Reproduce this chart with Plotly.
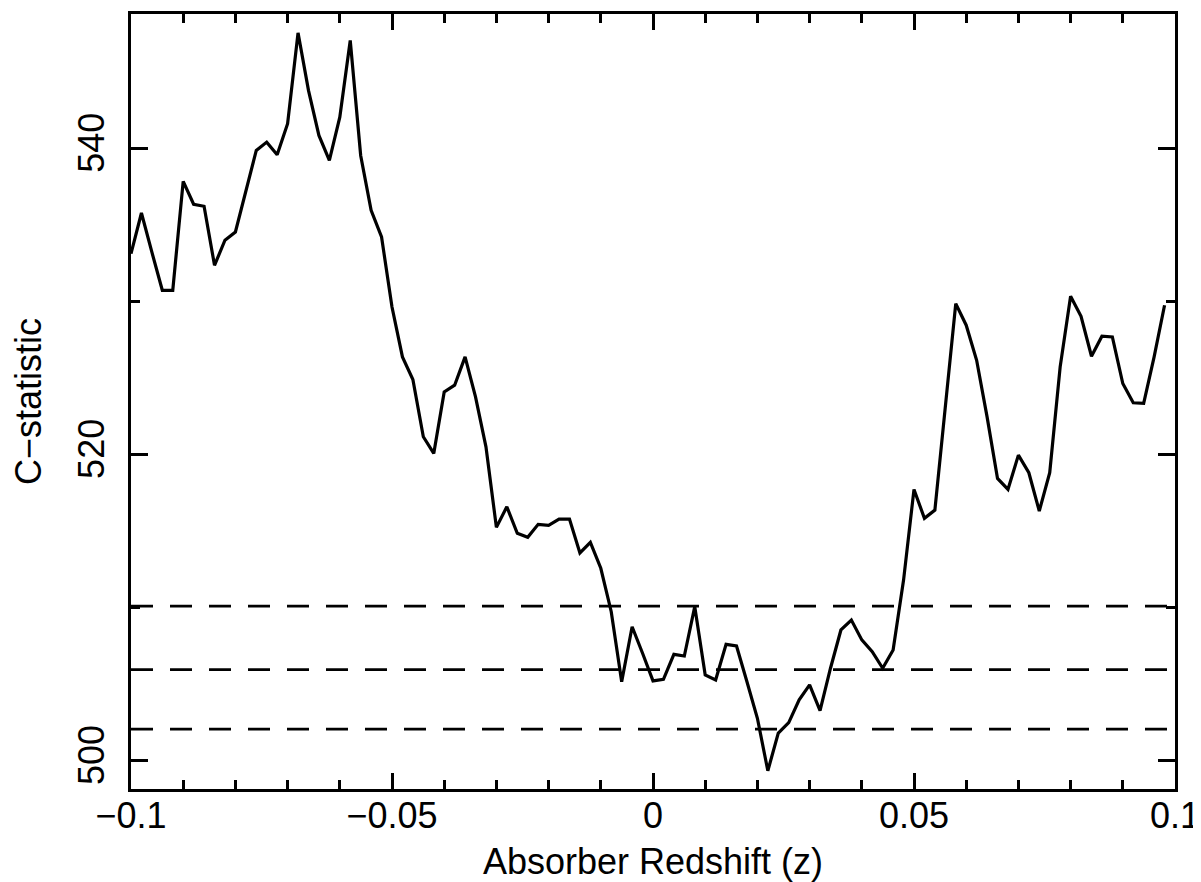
import plotly.graph_objects as go

# Absorber redshift grid (step 0.002 from -0.1 to 0.098)
redshift = [round(-0.1 + 0.002 * i, 3) for i in range(100)]

c_statistic = [
    533.10, 535.76, 533.20, 530.71, 530.71, 537.83, 536.33, 536.20, 532.34, 533.98,
    534.52, 537.24, 539.85, 540.39, 539.57, 541.59, 547.53, 543.77, 540.83, 539.20,
    542.02, 547.03, 539.52, 535.93, 534.19, 529.62, 526.36, 524.88, 521.14, 520.05,
    524.07, 524.51, 526.36, 523.75, 520.48, 515.22, 516.57, 514.83, 514.57, 515.42,
    515.35, 515.76, 515.76, 513.55, 514.24, 512.55, 509.71, 505.14, 508.73, 507.00,
    505.19, 505.30, 506.93, 506.82, 510.04, 505.58, 505.25, 507.58, 507.47, 505.14,
    502.75, 499.32, 501.78, 502.47, 503.95, 504.93, 503.25, 506.02, 508.52, 509.17,
    507.87, 507.10, 506.02, 507.21, 511.78, 517.70, 515.81, 516.35, 523.10, 529.84,
    528.43, 526.14, 522.44, 518.42, 517.70, 519.94, 518.79, 516.29, 518.79, 525.71,
    530.32, 529.01, 526.40, 527.71, 527.66, 524.62, 523.36, 523.32, 526.36, 529.73,
]

# Confidence levels (dashed horizontal lines)
levels = [502.04, 505.93, 510.08]

x_tickvals = [-0.1, -0.05, 0, 0.05, 0.1]
x_ticktext = ["\u22120.1", "\u22120.05", "0", "0.05", "0.1"]
y_tickvals = [500, 520, 540]
y_ticktext = ["500", "520", "540"]

FONT = "Liberation Sans, Arial, Helvetica, sans-serif"
FS = 36

fig = go.Figure()
fig.add_trace(go.Scatter(
    x=redshift, y=c_statistic, mode="lines",
    line=dict(color="black", width=3.2),
    showlegend=False, hoverinfo="skip",
))

for lv in levels:
    fig.add_shape(type="line", xref="paper", x0=0, x1=1, yref="y", y0=lv, y1=lv,
                  line=dict(color="black", width=2.8, dash="22px,17px"), layer="above")

# page body adds an 8px margin, so the figure is offset by 8px in the window
fig.update_layout(
    width=1193, height=874,
    margin=dict(l=123, r=26, t=6, b=93, autoexpand=False),
    paper_bgcolor="white", plot_bgcolor="white",
    font=dict(family=FONT, size=FS, color="black"),
    showlegend=False,
)

fig.update_xaxes(
    automargin=False,
    range=[-0.1, 0.1],
    tickvals=x_tickvals, ticktext=x_ticktext,
    ticks="inside", ticklen=16, tickwidth=2.5, tickcolor="black",
    minor=dict(dtick=0.01, tick0=0, ticks="inside", ticklen=9, tickwidth=2.5, tickcolor="black"),
    showline=True, linecolor="black", linewidth=3, mirror="ticks",
    showgrid=False, zeroline=False,
    tickfont=dict(size=FS, family=FONT, color="black"),
    ticklabelstandoff=-7,
    ticklabeloverflow="allow",
    title=dict(text="Absorber Redshift (z)", font=dict(size=FS, family=FONT, color="black"), standoff=15),
)

fig.update_yaxes(
    automargin=False,
    range=[498.13, 548.76],
    tickvals=y_tickvals, ticktext=y_ticktext,
    tickangle=-90,
    ticks="inside", ticklen=17, tickwidth=2.5, tickcolor="black",
    minor=dict(dtick=10, tick0=500, ticks="inside", ticklen=9, tickwidth=2.5, tickcolor="black"),
    showline=True, linecolor="black", linewidth=3, mirror="ticks",
    showgrid=False, zeroline=False,
    tickfont=dict(size=FS, family=FONT, color="black"),
    ticklabelstandoff=10,
    title=dict(text="C\u2212statistic", font=dict(size=FS, family=FONT, color="black"), standoff=33),
)

fig.write_html("out.html")
